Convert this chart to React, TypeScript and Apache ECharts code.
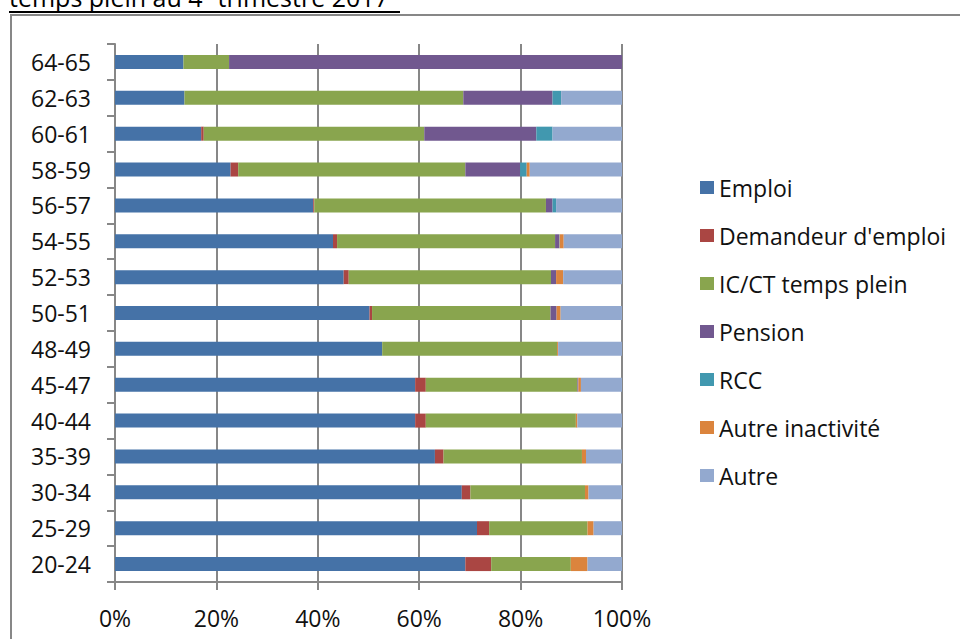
import React, { useEffect, useRef } from "react";
import * as echarts from "echarts";

const categories = ["20-24", "25-29", "30-34", "35-39", "40-44", "45-47", "48-49", "50-51", "52-53", "54-55", "56-57", "58-59", "60-61", "62-63", "64-65"];
const emploi = [69.1, 71.4, 68.4, 63.1, 59.2, 59.2, 52.7, 50.2, 45.1, 43.0, 39.1, 22.8, 17.0, 13.7, 13.5];
const demandeur = [5.1, 2.4, 1.7, 1.7, 2.1, 2.1, 0, 0.5, 1.0, 0.8, 0.2, 1.5, 0.5, 0, 0];
const icct = [15.7, 19.4, 22.6, 27.3, 29.6, 29.9, 34.5, 35.2, 39.9, 43.0, 45.7, 44.8, 43.5, 55.0, 9.0];
const pension = [0, 0, 0, 0, 0, 0.2, 0, 1.2, 1.0, 0.8, 1.3, 10.8, 22.1, 17.6, 77.5];
const rcc = [0, 0, 0, 0, 0, 0, 0, 0, 0, 0.1, 0.7, 1.3, 3.2, 1.7, 0];
const autreInact = [3.3, 1.2, 0.7, 0.8, 0.3, 0.5, 0.2, 0.8, 1.4, 0.8, 0, 0.6, 0, 0, 0];
const autre = [6.8, 5.6, 6.6, 7.1, 8.8, 8.1, 12.6, 12.1, 11.6, 11.5, 13.0, 18.2, 13.7, 12.0, 0];
const xTicks = [0, 20, 40, 60, 80, 100];

const seriesDefs = [
  { name: "Emploi", data: emploi, color: "#4572A7" },
  { name: "Demandeur d'emploi", data: demandeur, color: "#AA4643" },
  { name: "IC/CT temps plein", data: icct, color: "#89A54E" },
  { name: "Pension", data: pension, color: "#71588F" },
  { name: "RCC", data: rcc, color: "#4198AF" },
  { name: "Autre inactivité", data: autreInact, color: "#DB843D" },
  { name: "Autre", data: autre, color: "#93A9CF" },
];

const FONT = "'Open Sans', sans-serif";
const GRAY = "#878787";

export default function App() {
  const ref = useRef<HTMLDivElement>(null);
  useEffect(() => {
    if (!ref.current) return;
    const chart = echarts.init(ref.current, null, { renderer: "svg" });
    chart.setOption({
      animation: false,
      backgroundColor: "#ffffff",
      textStyle: { fontFamily: FONT },
      grid: { left: 115, top: 44, width: 507, height: 538, containLabel: false },
      xAxis: {
        type: "value",
        min: xTicks[0],
        max: xTicks[xTicks.length - 1],
        interval: 20,
        axisLine: { show: true, lineStyle: { color: GRAY, width: 2 } },
        axisTick: { show: true, length: 8, lineStyle: { color: GRAY, width: 2 } },
        splitLine: { show: true, lineStyle: { color: GRAY, width: 2 } },
        axisLabel: { formatter: "{value}%", fontSize: 23, color: "#111", margin: 24, fontFamily: FONT },
      },
      yAxis: {
        type: "category",
        data: categories,
        axisLine: { show: true, lineStyle: { color: GRAY, width: 2 } },
        axisTick: { show: true, length: 8, alignWithLabel: false, lineStyle: { color: GRAY, width: 2 } },
        splitLine: { show: false },
        axisLabel: { fontSize: 23, color: "#111", margin: 24, fontFamily: FONT },
      },
      legend: {
        orient: "vertical",
        left: 695,
        top: 171,
        itemWidth: 14,
        itemHeight: 13,
        itemGap: 25,
        icon: "rect",
        textStyle: { fontSize: 23, color: "#111", fontFamily: FONT },
        data: seriesDefs.map((s) => s.name),
      },
      series: seriesDefs.map((s) => ({
        name: s.name,
        type: "bar",
        stack: "total",
        barWidth: 14,
        data: s.data,
        itemStyle: { color: s.color },
      })),
      graphic: [
        {
          type: "rect",
          shape: { x: 11, y: 15, width: 1000, height: 700 },
          style: { fill: "none", stroke: GRAY, lineWidth: 2 },
          silent: true,
        },
        {
          type: "text",
          x: 9,
          y: 9,
          style: {
            text: "{a|temps plein au 4}{s|e}{a| trimestre 2017}",
            verticalAlign: "bottom",
            fill: "#000",
            rich: {
              a: { fontSize: 25, fontFamily: FONT, fill: "#000", verticalAlign: "bottom" },
              s: { fontSize: 15, fontFamily: FONT, fill: "#000", verticalAlign: "top" },
            },
          },
        },
        {
          type: "line",
          shape: { x1: 9, y1: 12, x2: 400, y2: 12 },
          style: { stroke: "#000", lineWidth: 2 },
        },
      ],
    });
    return () => chart.dispose();
  }, []);
  return (
    <div
      ref={ref}
      style={{ position: "absolute", left: 0, top: 0, width: 960, height: 639 }}
    />
  );
}
